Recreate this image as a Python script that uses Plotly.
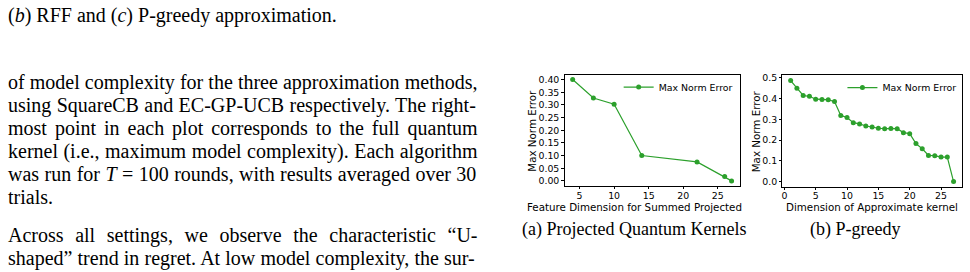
import os
import struct
import plotly.graph_objects as go

# ---------------- data ----------------
pqk_dim = [4, 7, 10, 14, 22, 26, 27]
pqk_err = [0.400, 0.327, 0.303, 0.100, 0.075, 0.017, 0.000]

pg_dim = list(range(1, 28))
pg_err = [0.487, 0.450, 0.415, 0.411, 0.397, 0.396, 0.394, 0.386, 0.319, 0.309,
          0.284, 0.278, 0.268, 0.263, 0.257, 0.255, 0.256, 0.255, 0.236, 0.231,
          0.183, 0.158, 0.126, 0.125, 0.118, 0.118, 0.000]

series_name = "Max Norm Error"
ylabel = "Max Norm Error"
xlabel_a = "Feature Dimension for Summed Projected"
xlabel_b = "Dimension of Approximate kernel"
caption_a = "(a) Projected Quantum Kernels"
caption_b = "(b) P-greedy"

header_line = "(<i>b</i>) RFF and (<i>c</i>) P-greedy approximation."
para1 = [
    "of model complexity for the three approximation methods,",
    "using SquareCB and EC-GP-UCB respectively. The right-",
    "most point in each plot corresponds to the full quantum",
    "kernel (i.e., maximum model complexity). Each algorithm",
    "was run for <i>T</i> = 100 rounds, with results averaged over 30",
    "trials.",
]
para2 = [
    "Across all settings, we observe the characteristic \u201cU-",
    "shaped\u201d trend in regret. At low model complexity, the sur-",
]

W, H = 970, 272
GREEN = "#2ca02c"
SERIF = "Liberation Serif, Times New Roman, serif"
SANS = "DejaVu Sans, sans-serif"
BODY_FS = 20
CAP_FS = 18
TICK_FS = 9.4
LEG_FS = 9.4
LAB_FS = 10.3


def px(x):
    return x / W


def py(y):
    return 1 - y / H


# ------------- font metrics (for justified text) -------------
def find_font(name):
    for root in ["/usr/share/fonts", "/usr/local/share/fonts", os.path.expanduser("~/.fonts")]:
        if not os.path.isdir(root):
            continue
        for d, _, files in os.walk(root):
            if name in files:
                return os.path.join(d, name)
    return None


def load_width_fn(path):
    with open(path, "rb") as f:
        data = f.read()
    num = struct.unpack(">H", data[4:6])[0]
    tables = {}
    for i in range(num):
        tag, _, off, ln = struct.unpack(">4sIII", data[12 + 16 * i:28 + 16 * i])
        tables[tag.decode("latin1")] = off
    head = tables["head"]
    upem = struct.unpack(">H", data[head + 18:head + 20])[0]
    hhea = tables["hhea"]
    nhm = struct.unpack(">H", data[hhea + 34:hhea + 36])[0]
    hmtx = tables["hmtx"]
    adv = [struct.unpack(">H", data[hmtx + 4 * i:hmtx + 4 * i + 2])[0] for i in range(nhm)]
    cmap = tables["cmap"]
    n = struct.unpack(">H", data[cmap + 2:cmap + 4])[0]
    sub = None
    for i in range(n):
        pid, eid, off = struct.unpack(">HHI", data[cmap + 4 + 8 * i:cmap + 12 + 8 * i])
        if pid == 3 and eid == 1:
            sub = cmap + off
    segX2 = struct.unpack(">H", data[sub + 6:sub + 8])[0]
    seg = segX2 // 2
    ends = struct.unpack(">%dH" % seg, data[sub + 14:sub + 14 + segX2])
    starts = struct.unpack(">%dH" % seg, data[sub + 16 + segX2:sub + 16 + 2 * segX2])
    deltas = struct.unpack(">%dh" % seg, data[sub + 16 + 2 * segX2:sub + 16 + 3 * segX2])
    rpos = sub + 16 + 3 * segX2
    roffs = struct.unpack(">%dH" % seg, data[rpos:rpos + segX2])

    def gid(ch):
        c = ord(ch)
        for i in range(seg):
            if starts[i] <= c <= ends[i]:
                if roffs[i] == 0:
                    return (c + deltas[i]) & 0xFFFF
                addr = rpos + 2 * i + roffs[i] + 2 * (c - starts[i])
                g = struct.unpack(">H", data[addr:addr + 2])[0]
                return (g + deltas[i]) & 0xFFFF if g else 0
        return 0

    def width(s, size):
        tot = 0
        for ch in s:
            g = gid(ch)
            tot += adv[min(g, nhm - 1)]
        return tot * size / upem

    return width


_fp = find_font("LiberationSerif-Regular.ttf")
try:
    text_width = load_width_fn(_fp) if _fp else None
except Exception:
    text_width = None
if text_width is None:
    def text_width(s, size):
        return len(s) * 0.46 * size


def strip_tags(s):
    out, inside = [], False
    for ch in s:
        if ch == "<":
            inside = True
        elif ch == ">":
            inside = False
        elif not inside:
            out.append(ch)
    return "".join(out)


def justified(line, width):
    plain = strip_tags(line)
    nat = text_width(plain, BODY_FS)
    nsp = plain.count(" ")
    if nsp == 0:
        return line
    ws = (width - nat) / nsp
    return '<span style="word-spacing:%.2fpx">%s</span>' % (ws, line)


# ---------------- figure ----------------
fig = go.Figure()
fig.add_trace(go.Scatter(x=pqk_dim, y=pqk_err, mode="lines+markers", name=series_name,
                         line=dict(color=GREEN, width=1.2), marker=dict(color=GREEN, size=5),
                         xaxis="x", yaxis="y", legend="legend", showlegend=True))
fig.add_trace(go.Scatter(x=pg_dim, y=pg_err, mode="lines+markers", name=series_name,
                         line=dict(color=GREEN, width=1.2), marker=dict(color=GREEN, size=5),
                         xaxis="x2", yaxis="y2", legend="legend2", showlegend=True))


def pad_range(vals):
    lo, hi = min(vals), max(vals)
    m = (hi - lo) * 0.05
    return [lo - m, hi + m]


axis_common = dict(showline=True, mirror=True, linecolor="black", linewidth=1,
                   ticks="outside", ticklen=2.5, tickwidth=1, tickcolor="black",
                   showgrid=False, zeroline=False,
                   tickfont=dict(family=SANS, size=TICK_FS, color="black"))

fig.update_layout(
    width=W, height=H, margin=dict(l=0, r=0, t=0, b=0),
    paper_bgcolor="white", plot_bgcolor="white", showlegend=True,
    xaxis=dict(domain=[px(564.3), px(739.3)], range=pad_range(pqk_dim), dtick=5, tick0=0,
               anchor="y", ticklabelstandoff=-2, **axis_common),
    yaxis=dict(domain=[py(185), py(72.3)], range=pad_range(pqk_err), dtick=0.05, tick0=0,
               tickformat=".2f", anchor="x", **axis_common),
    xaxis2=dict(domain=[px(782.3), px(961.7)], range=pad_range(pg_dim), dtick=5, tick0=0,
                anchor="y2", ticklabelstandoff=-2, **axis_common),
    yaxis2=dict(domain=[py(185.7), py(73.3)], range=pad_range(pg_err), dtick=0.1, tick0=0,
                tickformat=".1f", anchor="x2", **axis_common),
    legend=dict(x=px(618.3), y=py(85), xanchor="left", yanchor="middle", visible=True,
                bgcolor="rgba(0,0,0,0)", font=dict(family=SANS, size=LEG_FS, color="black")),
    legend2=dict(x=px(842.3), y=py(85.5), xanchor="left", yanchor="middle", visible=True,
                 bgcolor="rgba(0,0,0,0)", font=dict(family=SANS, size=LEG_FS, color="black")),
)

ann = []


def add_text(text, x, y, fs, family, xanchor="left", yanchor="middle", angle=0):
    ann.append(dict(text=text, x=px(x), y=py(y), xref="paper", yref="paper",
                    xanchor=xanchor, yanchor=yanchor, showarrow=False, textangle=angle,
                    borderpad=0, borderwidth=0, align="left",
                    font=dict(family=family, size=fs, color="black")))


# axis titles
add_text(ylabel, 532, 128.7, LAB_FS, SANS, xanchor="center", angle=-90)
add_text(ylabel, 756, 129.5, LAB_FS, SANS, xanchor="center", angle=-90)
add_text(xlabel_a, 526.7, 206.0, LAB_FS, SANS, xanchor="left")
add_text(xlabel_b, 872, 206.0, LAB_FS, SANS, xanchor="center")

# captions
add_text(caption_a, 633.3, 229.5, CAP_FS, SERIF, xanchor="center")
add_text(caption_b, 854.7, 229.5, CAP_FS, SERIF, xanchor="center")

# body text
LEFT = 7.0
RIGHT = 476.5
MID = 0.3375 * BODY_FS
add_text(header_line, 6.7, 19.7 - MID, BODY_FS, SERIF)
base = [86.7, 110.0, 133.3, 156.7, 180.0, 203.3]
for i, line in enumerate(para1):
    t = line if i == len(para1) - 1 else justified(line, RIGHT - LEFT)
    add_text(t, LEFT, base[i] - MID, BODY_FS, SERIF)
base2 = [241.7, 265.0]
for i, line in enumerate(para2):
    add_text(justified(line, RIGHT - LEFT), LEFT, base2[i] - MID, BODY_FS, SERIF)

fig.update_layout(annotations=ann)
fig.write_html("out.html")
